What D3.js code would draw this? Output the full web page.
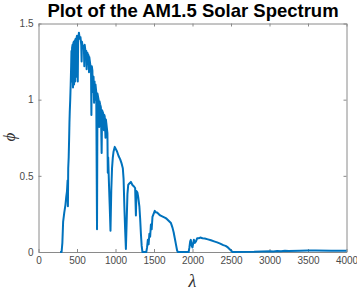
<!DOCTYPE html>
<html>
<head>
<meta charset="utf-8">
<script src="https://cdn.jsdelivr.net/npm/d3@7"></script>
<style>
  body { margin: 0; background: #fff; }
  svg { display: block; }
</style>
</head>
<body>
<div id="chart"></div>
<script>
// wavelength (nm) and spectrum values
var lambda = [280, 300, 310, 320, 335, 350, 360, 370, 378, 382, 386, 392, 398, 402, 406, 412, 418, 424, 428, 432,
  436, 442, 448, 452, 458, 462, 466, 472, 476, 482, 487, 492, 500, 506, 510, 515, 525, 535, 545, 555,
  560, 565, 575, 585, 590, 595, 600, 612, 620, 625, 632, 640, 650, 656, 660, 665, 675, 682, 687, 692,
  700, 705, 715, 722, 728, 734, 740, 750, 760, 766, 780, 788, 792, 800, 810, 820, 826, 840, 850, 855,
  860, 870, 875, 880, 895, 900, 905, 915, 925, 935, 945, 955, 965, 975, 990, 1000, 1020, 1040, 1060, 1080,
  1095, 1105, 1115, 1125, 1135, 1145, 1155, 1165, 1180, 1200, 1220, 1240, 1255, 1265, 1272, 1285, 1295, 1310, 1320, 1330,
  1340, 1350, 1400, 1410, 1420, 1430, 1440, 1450, 1460, 1470, 1480, 1495, 1510, 1525, 1540, 1560, 1580, 1600, 1620, 1640,
  1660, 1680, 1700, 1720, 1740, 1755, 1770, 1785, 1800, 1810, 1950, 1960, 1970, 1978, 1990, 2000, 2010, 2018, 2030, 2045,
  2060, 2080, 2100, 2130, 2160, 2200, 2240, 2280, 2320, 2360, 2400, 2430, 2460, 2490, 2520, 2800, 2900, 3000, 3050, 3100,
  3150, 3200, 3250, 3400, 3500, 3600, 3800, 4000];
var phi = [0, 0, 0.06, 0.2, 0.26, 0.31, 0.36, 0.4, 0.47, 0.3, 0.55, 0.62, 0.75, 0.85, 0.92, 1.0, 1.1, 1.22, 1.32, 1.12,
  1.34, 1.36, 1.08, 1.37, 1.38, 1.1, 1.38, 1.39, 1.12, 1.4, 1.15, 1.4, 1.42, 1.41, 1.12, 1.39, 1.44, 1.4, 1.41, 1.36,
  1.25, 1.38, 1.34, 1.35, 1.33, 1.22, 1.36, 1.31, 1.32, 1.2, 1.31, 1.3, 1.29, 1.18, 1.28, 1.26, 1.22, 1.2, 0.9, 1.22,
  1.19, 1.05, 1.15, 0.98, 1.12, 1.0, 1.1, 1.05, 0.15, 1.04, 1.0, 0.82, 0.99, 0.97, 0.95, 0.65, 0.93, 0.91, 0.8, 0.9,
  0.89, 0.75, 0.87, 0.85, 0.78, 0.52, 0.62, 0.45, 0.3, 0.14, 0.4, 0.55, 0.62, 0.66, 0.69, 0.68, 0.66, 0.63, 0.61, 0.58,
  0.55, 0.48, 0.3, 0.15, 0.02, 0.2, 0.38, 0.44, 0.45, 0.46, 0.44, 0.43, 0.42, 0.24, 0.4, 0.39, 0.36, 0.3, 0.22, 0.12,
  0.04, 0, 0, 0.03, 0.08, 0.05, 0.12, 0.1, 0.18, 0.15, 0.23, 0.25, 0.27, 0.26, 0.26, 0.25, 0.24, 0.235, 0.23, 0.225,
  0.22, 0.21, 0.2, 0.19, 0.16, 0.13, 0.09, 0.05, 0.01, 0, 0, 0.03, 0.07, 0.08, 0.04, 0.03, 0.06, 0.08, 0.06, 0.07,
  0.09, 0.09, 0.095, 0.09, 0.088, 0.083, 0.077, 0.07, 0.063, 0.055, 0.045, 0.04, 0.03, 0.015, 0, 0.002, 0.004, 0.005, 0.004, 0.007,
  0.005, 0.008, 0.006, 0.008, 0.01, 0.01, 0.009, 0.008];
var xTicks = [0, 500, 1000, 1500, 2000, 2500, 3000, 3500, 4000];
var yTicks = [0, 0.5, 1, 1.5];

var svgWidth = 357;
var svgHeight = 290;
var margin = { top: 23.5, bottom: 38, left: 38.5, right: 10.5 };
var chartWidth = svgWidth - margin.left - margin.right;
var chartHeight = svgHeight - margin.top - margin.bottom;

var svg = d3.select('#chart')
  .append('svg')
  .attr('width', svgWidth)
  .attr('height', svgHeight);

var chartGroup = svg.append('g')
  .attr('transform', `translate(${margin.left}, ${margin.top})`);

// Scales
var xScale = d3.scaleLinear().domain([0, 4000]).range([0, chartWidth]);
var yScale = d3.scaleLinear().domain([0, 1.5]).range([chartHeight, 0]);

// Axes, ticks pointing inward like matlab
var axisColor = '#8a8a8a';
var labelColor = '#4a4a4a';

function styleAxis(g) {
  g.select('.domain').attr('stroke', axisColor);
  g.selectAll('.tick line').attr('stroke', axisColor);
  g.selectAll('.tick text')
    .attr('fill', labelColor)
    .style('font-family', 'Liberation Sans, Arial, sans-serif')
    .style('font-size', '10px');
}

chartGroup.append('g')
  .attr('transform', `translate(0, ${chartHeight})`)
  .call(d3.axisBottom(xScale).tickValues(xTicks).tickSizeInner(-3).tickSizeOuter(0).tickPadding(5).tickFormat(d3.format('d')))
  .call(styleAxis);

chartGroup.append('g')
  .call(d3.axisTop(xScale).tickValues(xTicks).tickSizeInner(-3).tickSizeOuter(0).tickFormat(''))
  .call(styleAxis);

chartGroup.append('g')
  .call(d3.axisLeft(yScale).tickValues(yTicks).tickSizeInner(-3).tickSizeOuter(0).tickPadding(5).tickFormat(d3.format('~g')))
  .call(styleAxis);

chartGroup.append('g')
  .attr('transform', `translate(${chartWidth}, 0)`)
  .call(d3.axisRight(yScale).tickValues(yTicks).tickSizeInner(-3).tickSizeOuter(0).tickFormat(''))
  .call(styleAxis);

// Spectrum line
var line = d3.line()
  .x((d, i) => xScale(lambda[i]))
  .y(d => yScale(d));

chartGroup.append('path')
  .datum(phi)
  .attr('d', line)
  .attr('fill', 'none')
  .attr('stroke', '#0072BD')
  .attr('stroke-width', 2)
  .attr('stroke-linejoin', 'round');

// Title and labels
svg.append('text')
  .attr('x', 193)
  .attr('y', 17)
  .attr('text-anchor', 'middle')
  .style('font-family', 'Liberation Sans, Arial, sans-serif')
  .style('font-weight', 'bold')
  .style('font-size', '18.5px')
  .attr('fill', '#000')
  .text('Plot of the AM1.5 Solar Spectrum');

svg.append('text')
  .attr('x', margin.left + chartWidth / 2)
  .attr('y', 287)
  .attr('text-anchor', 'middle')
  .style('font-family', 'Liberation Serif, Times New Roman, serif')
  .style('font-style', 'italic')
  .style('font-size', '18px')
  .attr('fill', '#333')
  .text('λ');

svg.append('text')
  .attr('transform', 'translate(15, 137) rotate(-90)')
  .attr('text-anchor', 'middle')
  .style('font-family', 'Liberation Serif, Times New Roman, serif')
  .style('font-style', 'italic')
  .style('font-size', '17px')
  .attr('fill', '#333')
  .text('ϕ');
</script>
</body>
</html>
